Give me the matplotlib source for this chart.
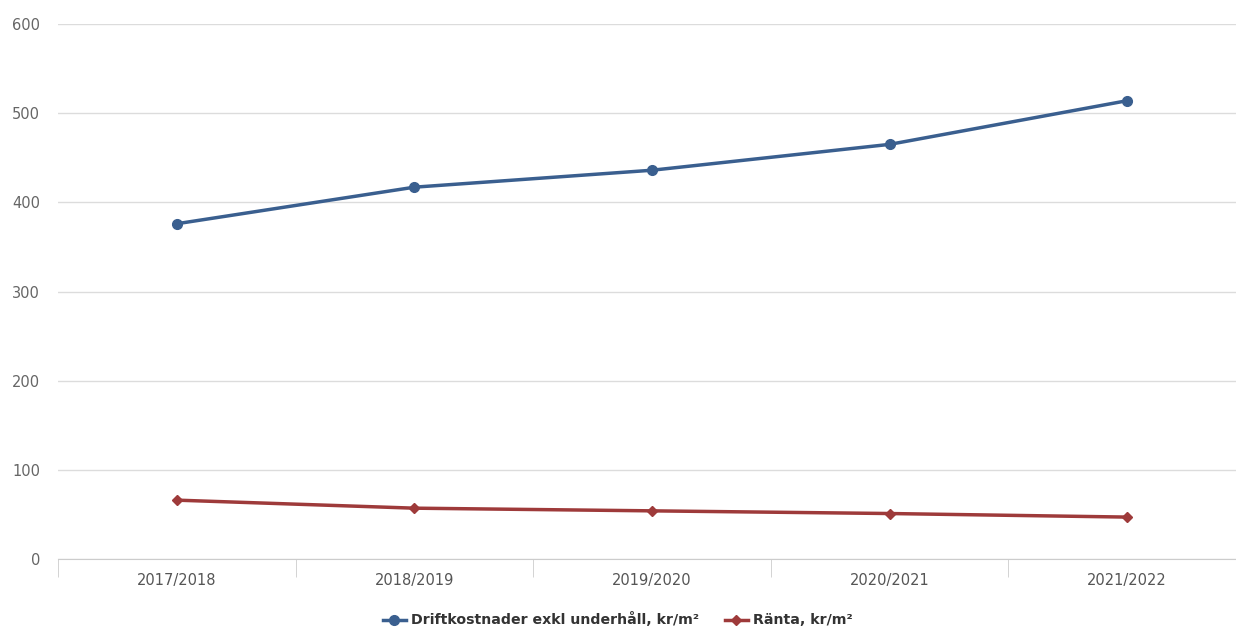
import matplotlib.pyplot as plt

years = ["2017/2018", "2018/2019", "2019/2020", "2020/2021", "2021/2022"]
drift = [376, 417, 436, 465, 514]
ranta = [66, 57, 54, 51, 47]
yticks = [0, 100, 200, 300, 400, 500, 600]

fig = plt.figure(figsize=(12.36, 6.30), dpi=100)
ax = fig.add_axes([58 / 1236, 71 / 630, 1188 / 1236, 535 / 630])

x = list(range(len(years)))
ax.plot(x, drift, color="#3a5f8f", lw=2.5, marker="o", ms=7,
        label="Driftkostnader exkl underhåll, kr/m²")
ax.plot(x, ranta, color="#9e3a3a", lw=2.5, marker="D", ms=5,
        label="Ränta, kr/m²")

ax.set_xlim(-0.5, 4.5)
ax.set_ylim(0, 600)
ax.set_yticks(yticks)
ax.set_xticks(x)
ax.set_xticklabels(years)
ax.set_xticks([i - 0.5 for i in range(len(years) + 1)], minor=True)
ax.tick_params(axis="x", which="major", length=0, pad=10, labelsize=10.5, labelcolor="#555555")
ax.tick_params(axis="x", which="minor", length=13, color="#cccccc", direction="out")
ax.tick_params(axis="y", length=0, pad=13, labelsize=10.5, labelcolor="#666666")

ax.grid(axis="y", color="#dcdcdc", lw=1)
ax.set_axisbelow(True)
for s in ["top", "right", "left"]:
    ax.spines[s].set_visible(False)
ax.spines["bottom"].set_color("#cccccc")

leg = fig.legend(loc="center", bbox_to_anchor=(0.5, 10 / 630), ncol=2, frameon=False,
                 fontsize=10.2, handlelength=1.6, columnspacing=1.8, handletextpad=0.4)
for t in leg.get_texts():
    t.set_color("#333333")
    t.set_fontweight("bold")

plt.savefig("out.png")
